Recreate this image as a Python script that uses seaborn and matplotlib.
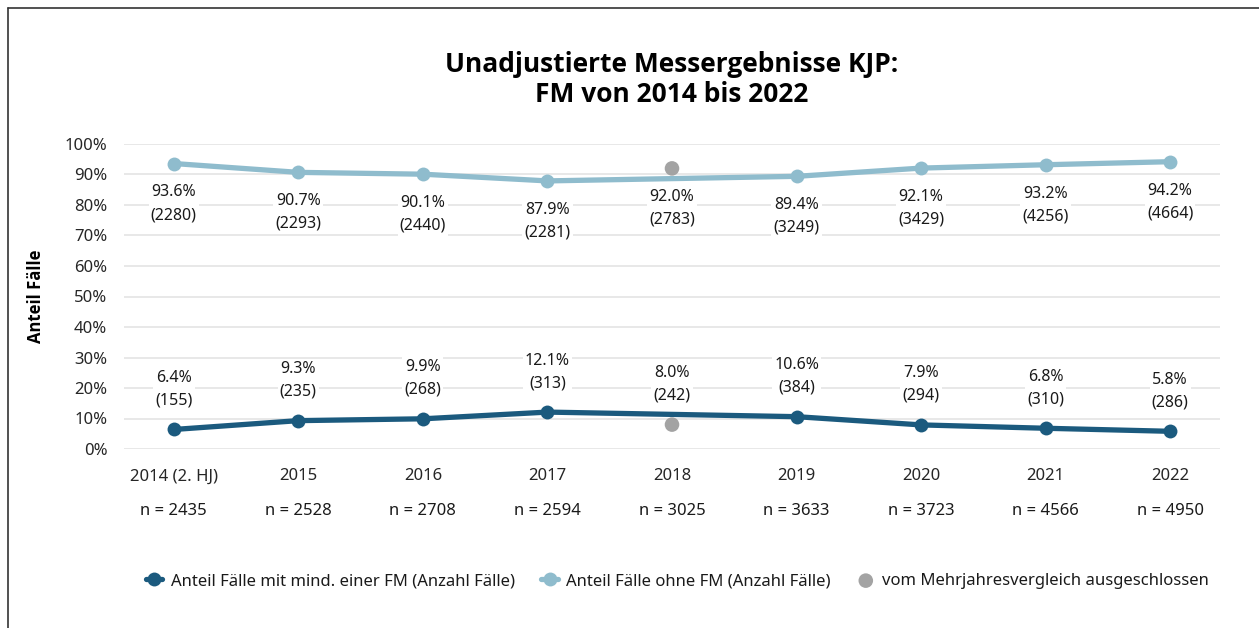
import matplotlib
matplotlib.use("Agg")
import matplotlib.pyplot as plt
import matplotlib.transforms as mtransforms
from matplotlib.lines import Line2D
import numpy as np
import pandas as pd
import seaborn as sns

# data
years = ['2014 (2. HJ)', '2015', '2016', '2017', '2018', '2019', '2020', '2021', '2022']
pct_with_fm = [6.4, 9.3, 9.9, 12.1, 8.0, 10.6, 7.9, 6.8, 5.8]
cases_with_fm = [155, 235, 268, 313, 242, 384, 294, 310, 286]
pct_without_fm = [93.6, 90.7, 90.1, 87.9, 92.0, 89.4, 92.1, 93.2, 94.2]
cases_without_fm = [2280, 2293, 2440, 2281, 2783, 3249, 3429, 4256, 4664]
n_total = [2435, 2528, 2708, 2594, 3025, 3633, 3723, 4566, 4950]
excluded_years = ['2018']

DARK = '#1b5a7e'
LIGHT = '#8fbccd'
GREY = '#a3a3a3'
FONT = ['Noto Sans', 'DejaVu Sans']
BOLD_FONT = ['Open Sans', 'DejaVu Sans']

sns.set_theme(style='white')
plt.rcParams['font.family'] = FONT
plt.rcParams['text.color'] = '#1a1a1a'

df = pd.DataFrame({
    'year': years,
    'pos': np.arange(len(years)),
    'with_fm': np.array(pct_with_fm) / 100,
    'without_fm': np.array(pct_without_fm) / 100,
})
df['excluded'] = df['year'].isin(excluded_years)
kept = df[~df['excluded']]
dropped = df[df['excluded']]

fig = plt.figure(figsize=(12.59, 6.28), dpi=100)
ax = fig.add_axes([124 / 1259, 1 - 449 / 628, (1220 - 124) / 1259, 305 / 628])

sns.lineplot(data=kept, x='pos', y='with_fm', ax=ax, color=DARK, linewidth=3.8,
             marker='o', markersize=10, markeredgewidth=0,
             label='Anteil Fälle mit mind. einer FM (Anzahl Fälle)', zorder=3)
sns.lineplot(data=kept, x='pos', y='without_fm', ax=ax, color=LIGHT, linewidth=3.8,
             marker='o', markersize=10, markeredgewidth=0,
             label='Anteil Fälle ohne FM (Anzahl Fälle)', zorder=3)
for col in ['with_fm', 'without_fm']:
    sns.scatterplot(data=dropped, x='pos', y=col, ax=ax, color=GREY, s=110,
                    edgecolor='none', zorder=4,
                    label='vom Mehrjahresvergleich ausgeschlossen' if col == 'with_fm' else None)

# value labels
for i in range(len(years)):
    ax.annotate(f'{pct_without_fm[i]:.1f}%\n({cases_without_fm[i]})',
                (i, pct_without_fm[i] / 100), xytext=(0, -29), textcoords='offset points',
                ha='center', va='center', fontsize=11.5, linespacing=1.55,
                bbox=dict(facecolor='white', edgecolor='none', pad=1.5), zorder=5)
    ax.annotate(f'{pct_with_fm[i]:.1f}%\n({cases_with_fm[i]})',
                (i, pct_with_fm[i] / 100), xytext=(0, 29), textcoords='offset points',
                ha='center', va='center', fontsize=11.5, linespacing=1.55,
                bbox=dict(facecolor='white', edgecolor='none', pad=1.5), zorder=5)

ax.set_xlim(-0.4, len(years) - 0.6)
ax.set_ylim(0, 1)
ax.set_yticks(np.arange(0, 1.01, 0.1))
ax.set_yticklabels([f'{int(round(v * 100))}%' for v in np.arange(0, 1.01, 0.1)], fontsize=12)
ax.set_xticks(range(len(years)))
ax.set_xticklabels(years, fontsize=12)
ax.tick_params(axis='x', length=0, pad=14)
ax.tick_params(axis='y', length=0, pad=12)
ax.grid(axis='y', color='#e6e6e6', linewidth=1.3)
ax.set_axisbelow(True)
for s in ax.spines.values():
    s.set_visible(False)
ax.set_xlabel('')
ax.set_ylabel('Anteil Fälle', fontsize=12, fontweight='bold', family=BOLD_FONT,
              labelpad=14, color='black')

# n per year under the tick labels
trans = mtransforms.blended_transform_factory(ax.transData, ax.transAxes)
for i, n in enumerate(n_total):
    ax.text(i, -62 / 305, f'n = {n}', transform=trans, ha='center', va='center', fontsize=12)

ax.text(0.5, 1.212, 'Unadjustierte Messergebnisse KJP:\nFM von 2014 bis 2022',
        transform=ax.transAxes, ha='center', va='center', fontsize=19,
        fontweight='bold', family=BOLD_FONT, linespacing=1.12, color='black')

ax.legend(loc='center', bbox_to_anchor=(0.505, -132 / 305), ncol=3, frameon=False,
          fontsize=12, handlelength=1.0, handletextpad=0.5, columnspacing=1.6)

# outer frame (left and top edges)
fig.add_artist(Line2D([8 / 1259, 8 / 1259], [0, 1 - 8 / 628], color='#333333', linewidth=1.2))
fig.add_artist(Line2D([8 / 1259, 1], [1 - 8 / 628, 1 - 8 / 628], color='#333333', linewidth=1.2))

fig.savefig('out.png', dpi=100)
